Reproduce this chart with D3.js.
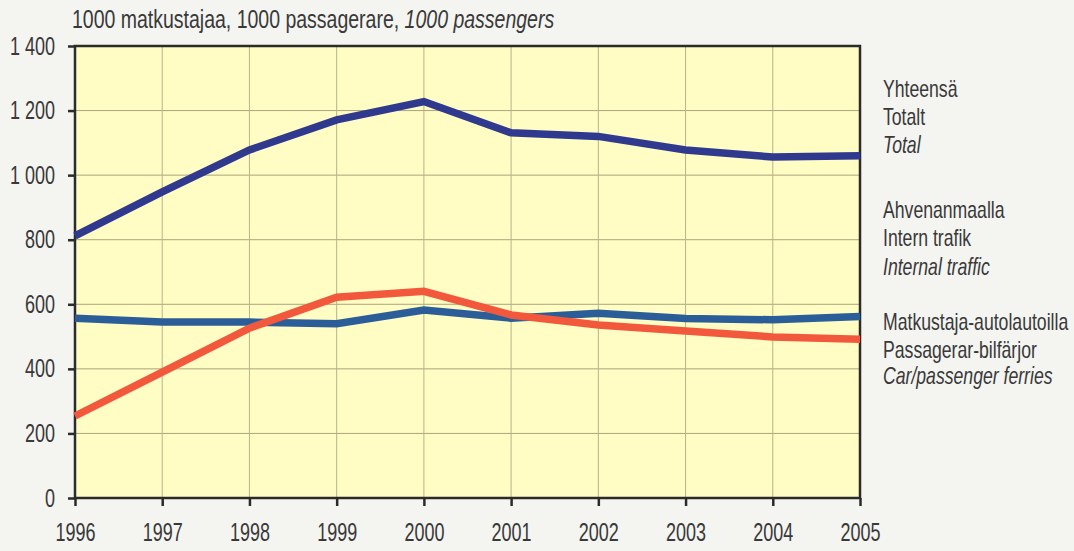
<!DOCTYPE html>
<html>
<head>
<meta charset="utf-8">
<script src="https://cdn.jsdelivr.net/npm/d3@7"></script>
<style>
  body { margin: 0; background: #f4f4f1; }
  svg text { font-family: "Liberation Sans", Arial, sans-serif; fill: #393939; }
</style>
</head>
<body>
<div id="chart"></div>
<script>
// data
var years = [1996, 1997, 1998, 1999, 2000, 2001, 2002, 2003, 2004, 2005];
var total = [812, 948, 1078, 1171, 1228, 1131, 1120, 1078, 1056, 1060];
var internal = [254, 390, 526, 622, 640, 567, 536, 517, 499, 492];
var ferries = [557, 545, 545, 540, 582, 557, 572, 556, 552, 562];
var yTicks = [0, 200, 400, 600, 800, 1000, 1200, 1400];

var width = 1074, height = 551;
var margin = { top: 46, right: 214, bottom: 53, left: 75 };

// the reference type is tall and narrow: squeeze glyphs horizontally
var sxTick = 0.72, sxLegend = 0.735, sxTitle = 0.78;

var svg = d3.select("#chart").append("svg")
    .attr("width", width)
    .attr("height", height);

var x = d3.scaleLinear()
    .domain([1996, 2005])
    .range([margin.left, width - margin.right]);

var y = d3.scaleLinear()
    .domain([0, 1400])
    .range([height - margin.bottom, margin.top]);

// plot background
svg.append("rect")
    .attr("x", x(1996))
    .attr("y", y(1400))
    .attr("width", x(2005) - x(1996))
    .attr("height", y(0) - y(1400))
    .style("fill", "#fffcc4");

// grid
svg.append("g").selectAll("line")
    .data(yTicks.slice(1, -1))
    .enter().append("line")
    .attr("x1", x(1996)).attr("x2", x(2005))
    .attr("y1", function (d) { return y(d); })
    .attr("y2", function (d) { return y(d); })
    .style("stroke", "#aaa57c").style("stroke-width", 1);

svg.append("g").selectAll("line")
    .data(years.slice(1, -1))
    .enter().append("line")
    .attr("y1", y(0)).attr("y2", y(1400))
    .attr("x1", function (d) { return x(d); })
    .attr("x2", function (d) { return x(d); })
    .style("stroke", "#bab488").style("stroke-width", 1);

// axes
var xAxis = d3.axisBottom(x)
    .tickValues(years)
    .tickFormat(d3.format("d"))
    .tickSizeInner(8).tickSizeOuter(0).tickPadding(17);

var yAxis = d3.axisLeft(y)
    .tickValues(yTicks)
    .tickFormat(function (d) { return d3.format(",")(d).replace(",", " "); })
    .tickSizeInner(7).tickSizeOuter(0).tickPadding(13);

var gx = svg.append("g")
    .attr("transform", "translate(0," + y(0) + ")")
    .call(xAxis);
var gy = svg.append("g")
    .attr("transform", "translate(" + x(1996) + ",0)")
    .call(yAxis);

[gx, gy].forEach(function (g) {
    g.select(".domain").remove();
    g.selectAll(".tick line").style("stroke", "#2b2b2b").style("stroke-width", 2.5);
    g.selectAll(".tick text")
        .style("font-size", "25px")
        .style("font-family", "'Liberation Sans', Arial, sans-serif")
        .style("fill", "#393939")
        .attr("transform", "scale(" + sxTick + ",1)");
});
// undo the squeeze on the label offset of the left axis
gy.selectAll(".tick text").attr("x", -20 / sxTick);

// frame
svg.append("rect")
    .attr("x", x(1996))
    .attr("y", y(1400))
    .attr("width", x(2005) - x(1996))
    .attr("height", y(0) - y(1400))
    .style("fill", "none")
    .style("stroke", "#2b2b2b")
    .style("stroke-width", 2.5);

// lines
var series = [
    { values: ferries, color: "#2b5e98" },
    { values: internal, color: "#f2583c" },
    { values: total, color: "#2f3a8f" }
];

var line = d3.line()
    .x(function (d, i) { return x(years[i]); })
    .y(function (d) { return y(d); });

svg.append("g").selectAll("path")
    .data(series)
    .enter().append("path")
    .attr("d", function (d) { return line(d.values); })
    .style("fill", "none")
    .style("stroke", function (d) { return d.color; })
    .style("stroke-width", 7.5)
    .style("stroke-linejoin", "miter");

// title
var title = svg.append("text")
    .attr("transform", "translate(72,28) scale(" + sxTitle + ",1)")
    .style("font-size", "25px");
title.append("tspan").text("1000 matkustajaa, 1000 passagerare, ");
title.append("tspan").style("font-style", "italic").text("1000 passengers");

// legend text
var legend = [
    { y: 97, text: "Yhteensä", italic: false },
    { y: 125, text: "Totalt", italic: false },
    { y: 153, text: "Total", italic: true },
    { y: 218, text: "Ahvenanmaalla", italic: false },
    { y: 246, text: "Intern trafik", italic: false },
    { y: 275, text: "Internal traffic", italic: true },
    { y: 330, text: "Matkustaja-autolautoilla", italic: false },
    { y: 358, text: "Passagerar-bilfärjor", italic: false },
    { y: 384, text: "Car/passenger ferries", italic: true }
];

svg.append("g").selectAll("text")
    .data(legend)
    .enter().append("text")
    .attr("transform", function (d) { return "translate(883," + d.y + ") scale(" + sxLegend + ",1)"; })
    .style("font-size", "24px")
    .style("font-style", function (d) { return d.italic ? "italic" : "normal"; })
    .text(function (d) { return d.text; });
</script>
</body>
</html>
